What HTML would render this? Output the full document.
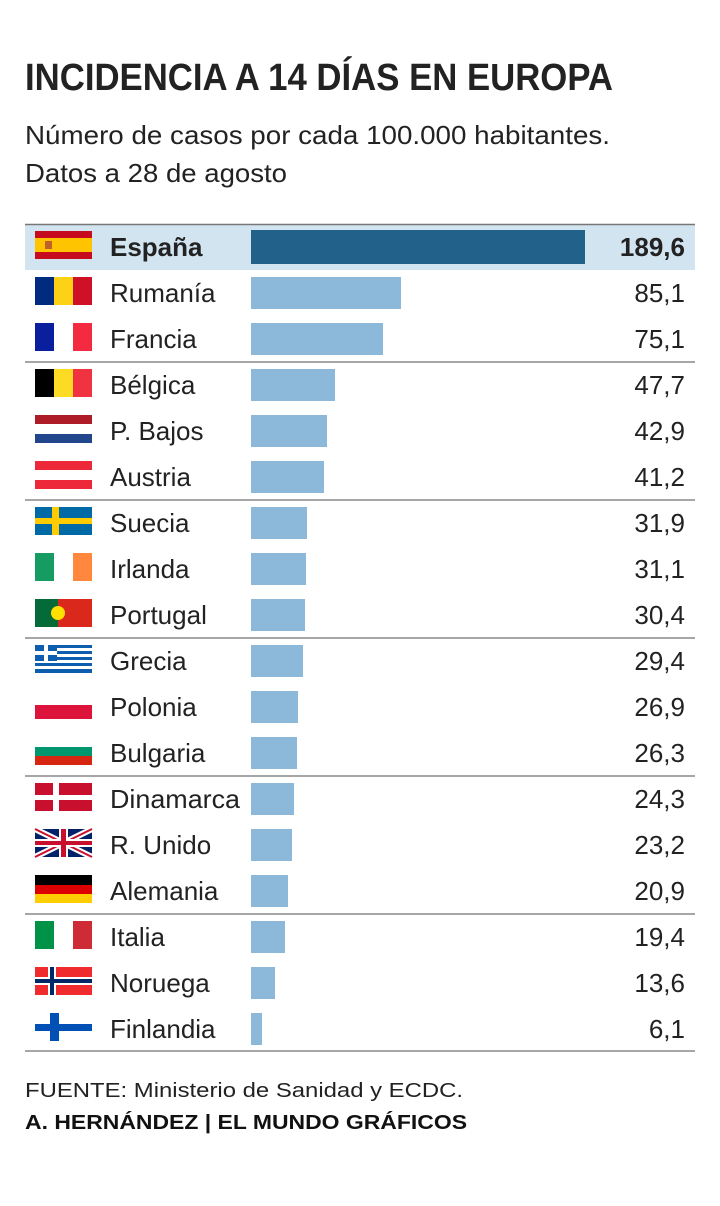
<!DOCTYPE html>
<html><head><meta charset="utf-8"><style>
html,body{margin:0;padding:0;background:#fff;}
svg{display:block;font-family:"Liberation Sans",sans-serif;}
</style></head><body>
<svg width="720" height="1206" viewBox="0 0 720 1206" xmlns="http://www.w3.org/2000/svg">
<text x="25" y="90" font-size="38" font-weight="bold" fill="#222" textLength="588" lengthAdjust="spacingAndGlyphs">INCIDENCIA A 14 DÍAS EN EUROPA</text>
<text x="25" y="144" font-size="26" fill="#222" textLength="585" lengthAdjust="spacingAndGlyphs">Número de casos por cada 100.000 habitantes.</text>
<text x="25" y="182" font-size="26" fill="#222" textLength="262" lengthAdjust="spacingAndGlyphs">Datos a 28 de agosto</text>

<rect x="25" y="224" width="670" height="46" fill="#d3e4f1"/>
<line x1="25" y1="224.5" x2="695" y2="224.5" stroke="#777" stroke-width="1.5"/>
<g stroke="#888" stroke-width="1.5">
<line x1="25" y1="362" x2="695" y2="362"/>
<line x1="25" y1="500" x2="695" y2="500"/>
<line x1="25" y1="638" x2="695" y2="638"/>
<line x1="25" y1="776" x2="695" y2="776"/>
<line x1="25" y1="914" x2="695" y2="914"/>
<line x1="25" y1="1051" x2="695" y2="1051"/>
</g>

<!-- bars -->
<rect x="251" y="230" width="334" height="34" fill="#22628a"/>
<g fill="#8cb8da">
<rect x="251" y="277" width="150" height="32"/>
<rect x="251" y="323" width="132" height="32"/>
<rect x="251" y="369" width="84" height="32"/>
<rect x="251" y="415" width="76" height="32"/>
<rect x="251" y="461" width="73" height="32"/>
<rect x="251" y="507" width="56" height="32"/>
<rect x="251" y="553" width="55" height="32"/>
<rect x="251" y="599" width="54" height="32"/>
<rect x="251" y="645" width="52" height="32"/>
<rect x="251" y="691" width="47" height="32"/>
<rect x="251" y="737" width="46" height="32"/>
<rect x="251" y="783" width="43" height="32"/>
<rect x="251" y="829" width="41" height="32"/>
<rect x="251" y="875" width="37" height="32"/>
<rect x="251" y="921" width="34" height="32"/>
<rect x="251" y="967" width="24" height="32"/>
<rect x="251" y="1013" width="11" height="32"/>
</g>

<!-- labels -->
<g font-size="26" fill="#222">
<text x="110" y="256" font-weight="bold">España</text>
<text x="110" y="302">Rumanía</text>
<text x="110" y="348">Francia</text>
<text x="110" y="394">Bélgica</text>
<text x="110" y="440">P. Bajos</text>
<text x="110" y="486">Austria</text>
<text x="110" y="532">Suecia</text>
<text x="110" y="578">Irlanda</text>
<text x="110" y="624">Portugal</text>
<text x="110" y="670">Grecia</text>
<text x="110" y="716">Polonia</text>
<text x="110" y="762">Bulgaria</text>
<text x="110" y="808" textLength="130" lengthAdjust="spacingAndGlyphs">Dinamarca</text>
<text x="110" y="854">R. Unido</text>
<text x="110" y="900">Alemania</text>
<text x="110" y="946">Italia</text>
<text x="110" y="992">Noruega</text>
<text x="110" y="1038">Finlandia</text>
</g>
<g font-size="26" fill="#222" text-anchor="end">
<text x="685" y="256" font-weight="bold">189,6</text>
<text x="685" y="302">85,1</text>
<text x="685" y="348">75,1</text>
<text x="685" y="394">47,7</text>
<text x="685" y="440">42,9</text>
<text x="685" y="486">41,2</text>
<text x="685" y="532">31,9</text>
<text x="685" y="578">31,1</text>
<text x="685" y="624">30,4</text>
<text x="685" y="670">29,4</text>
<text x="685" y="716">26,9</text>
<text x="685" y="762">26,3</text>
<text x="685" y="808">24,3</text>
<text x="685" y="854">23,2</text>
<text x="685" y="900">20,9</text>
<text x="685" y="946">19,4</text>
<text x="685" y="992">13,6</text>
<text x="685" y="1038">6,1</text>
</g>

<!-- flags: x 35..92, h 28, top = rowTop+7 -->
<!-- Spain -->
<rect x="35" y="231" width="57" height="28" fill="#c60b1e"/>
<rect x="35" y="238" width="57" height="14" fill="#ffc400"/>
<rect x="45" y="241" width="7" height="8" fill="#c0602a"/>
<!-- Romania -->
<rect x="35" y="277" width="19" height="28" fill="#002b7f"/>
<rect x="54" y="277" width="19" height="28" fill="#fcd116"/>
<rect x="73" y="277" width="19" height="28" fill="#ce1126"/>
<!-- France -->
<rect x="35" y="323" width="19" height="28" fill="#0a1f9e"/>
<rect x="73" y="323" width="19" height="28" fill="#f42a41"/>
<!-- Belgium -->
<rect x="35" y="369" width="19" height="28" fill="#000"/>
<rect x="54" y="369" width="19" height="28" fill="#fdda24"/>
<rect x="73" y="369" width="19" height="28" fill="#ef3340"/>
<!-- Netherlands -->
<rect x="35" y="415" width="57" height="9" fill="#ae1c28"/>
<rect x="35" y="434" width="57" height="9" fill="#21468b"/>
<!-- Austria -->
<rect x="35" y="461" width="57" height="9" fill="#ed2939"/>
<rect x="35" y="480" width="57" height="9" fill="#ed2939"/>
<!-- Sweden -->
<rect x="35" y="507" width="57" height="28" fill="#006aa7"/>
<rect x="35" y="518" width="57" height="6" fill="#fecc00"/>
<rect x="52" y="507" width="7" height="28" fill="#fecc00"/>
<!-- Ireland -->
<rect x="35" y="553" width="19" height="28" fill="#169b62"/>
<rect x="73" y="553" width="19" height="28" fill="#ff883e"/>
<!-- Portugal -->
<rect x="35" y="599" width="23" height="28" fill="#046a38"/>
<rect x="58" y="599" width="34" height="28" fill="#da291c"/>
<circle cx="58" cy="613" r="7" fill="#ffe000"/>
<!-- Greece -->
<g fill="#0d5eaf">
<rect x="35" y="645" width="57" height="3"/><rect x="35" y="651" width="57" height="3"/>
<rect x="35" y="657" width="57" height="3"/><rect x="35" y="663" width="57" height="3"/>
<rect x="35" y="669" width="57" height="4"/>
<rect x="35" y="645" width="22" height="16"/>
</g>
<rect x="44" y="645" width="4" height="16" fill="#fff"/>
<rect x="35" y="651" width="22" height="4" fill="#fff"/>
<!-- Poland -->
<rect x="35" y="705" width="57" height="14" fill="#dc143c"/>
<!-- Bulgaria -->
<rect x="35" y="747" width="57" height="9" fill="#00966e"/>
<rect x="35" y="756" width="57" height="9" fill="#d62612"/>
<!-- Denmark -->
<rect x="35" y="783" width="57" height="28" fill="#c8102e"/>
<rect x="35" y="795" width="57" height="5" fill="#fff"/>
<rect x="53" y="783" width="6" height="28" fill="#fff"/>
<!-- UK -->
<rect x="35" y="829" width="57" height="28" fill="#012169"/>
<path d="M35 829 L92 857 M92 829 L35 857" stroke="#fff" stroke-width="6"/>
<path d="M35 829 L92 857 M92 829 L35 857" stroke="#c8102e" stroke-width="2"/>
<rect x="35" y="839" width="57" height="8" fill="#fff"/>
<rect x="59" y="829" width="9" height="28" fill="#fff"/>
<rect x="35" y="841" width="57" height="4" fill="#c8102e"/>
<rect x="61" y="829" width="5" height="28" fill="#c8102e"/>
<!-- Germany -->
<rect x="35" y="875" width="57" height="10" fill="#000"/>
<rect x="35" y="885" width="57" height="9" fill="#dd0000"/>
<rect x="35" y="894" width="57" height="9" fill="#ffce00"/>
<!-- Italy -->
<rect x="35" y="921" width="19" height="28" fill="#009246"/>
<rect x="73" y="921" width="19" height="28" fill="#ce2b37"/>
<!-- Norway -->
<rect x="35" y="967" width="57" height="28" fill="#ef2b2d"/>
<rect x="35" y="977" width="57" height="8" fill="#fff"/>
<rect x="48" y="967" width="8" height="28" fill="#fff"/>
<rect x="35" y="979" width="57" height="4" fill="#002868"/>
<rect x="50" y="967" width="4" height="28" fill="#002868"/>
<!-- Finland -->
<rect x="35" y="1024" width="57" height="7" fill="#0050b5"/>
<rect x="50" y="1013" width="9" height="28" fill="#0050b5"/>

<text x="25" y="1097" font-size="20" fill="#222" textLength="438" lengthAdjust="spacingAndGlyphs">FUENTE: Ministerio de Sanidad y ECDC.</text>
<text x="25" y="1129" font-size="20" font-weight="bold" fill="#111" textLength="442" lengthAdjust="spacingAndGlyphs">A. HERNÁNDEZ | EL MUNDO GRÁFICOS</text>
</svg>
</body></html>
